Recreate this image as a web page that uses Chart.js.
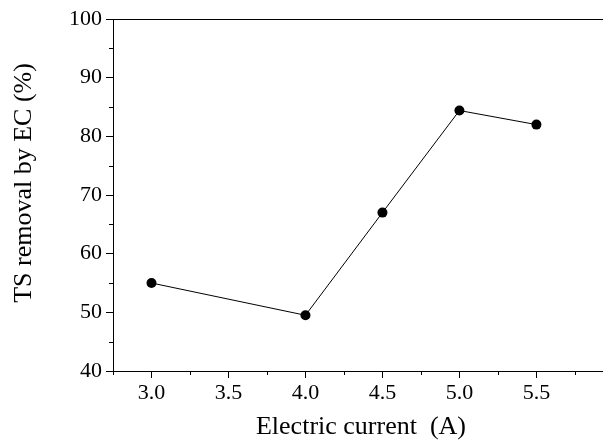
<!DOCTYPE html>
<html><head><meta charset="utf-8">
<script src="https://cdn.jsdelivr.net/npm/chart.js@4/dist/chart.umd.min.js"></script>
<style>html,body{margin:0;padding:0;background:#fff;} canvas{display:block;}</style>
</head><body>
<canvas id="c" width="603" height="444"></canvas>
<script>
const currents = [3.0, 4.0, 4.5, 5.0, 5.5];
const tsRemoval = [55.0, 49.5, 67.0, 84.4, 82.0];
const xTickValues = [3.0, 3.5, 4.0, 4.5, 5.0, 5.5];
const xMinorTicks = [2.75, 3.25, 3.75, 4.25, 4.75, 5.25, 5.75];
const yTickValues = [40, 50, 60, 70, 80, 90, 100];
const yMinorTicks = [45, 55, 65, 75, 85, 95];
const xTitle = 'Electric current  (A)';
const yTitle = 'TS removal by EC (%)';

const FONT = 'Liberation Serif, Times New Roman, serif';

const extras = {
  id: 'extras',
  afterDraw(chart) {
    const {ctx, chartArea: a, scales} = chart;
    ctx.save();
    ctx.strokeStyle = '#000';
    ctx.lineWidth = 1;
    ctx.beginPath();
    ctx.moveTo(a.left, a.top + 0.5);
    ctx.lineTo(chart.width, a.top + 0.5);
    ctx.moveTo(a.left, a.bottom + 0.5);
    ctx.lineTo(chart.width, a.bottom + 0.5);
    xMinorTicks.forEach(v => {
      const px = Math.round(scales.x.getPixelForValue(v)) + 0.5;
      ctx.moveTo(px, a.bottom);
      ctx.lineTo(px, a.bottom + 4);
    });
    yMinorTicks.forEach(v => {
      const py = Math.round(scales.y.getPixelForValue(v)) + 0.5;
      ctx.moveTo(a.left - 4, py);
      ctx.lineTo(a.left, py);
    });
    ctx.stroke();
    ctx.fillStyle = '#000';
    ctx.font = '26px ' + FONT;
    ctx.textAlign = 'center';
    ctx.textBaseline = 'alphabetic';
    ctx.fillText(xTitle, 361, 434);
    ctx.translate(31, 183);
    ctx.rotate(-Math.PI / 2);
    ctx.fillText(yTitle, 0, 0);
    ctx.restore();
  }
};

new Chart(document.getElementById('c'), {
  type: 'scatter',
  data: {
    datasets: [{
      data: currents.map((x, i) => ({x: x, y: tsRemoval[i]})),
      showLine: true,
      borderColor: '#000',
      borderWidth: 1,
      pointRadius: 5,
      pointBackgroundColor: '#000',
      pointBorderWidth: 0
    }]
  },
  options: {
    responsive: false,
    animation: false,
    layout: {padding: {top: 19, right: 0, left: 0, bottom: 0}},
    plugins: {legend: {display: false}, tooltip: {enabled: false}},
    scales: {
      x: {
        type: 'linear',
        min: 2.75,
        max: 5.9,
        afterBuildTicks: s => { s.ticks = xTickValues.map(v => ({value: v})); },
        afterFit: s => { s.height = 73; s.paddingLeft = 0; s.paddingRight = 0; },
        ticks: {
          font: {family: FONT, size: 22},
          color: '#000',
          padding: 2,
          maxRotation: 0,
          autoSkip: false,
          callback: v => Number(v).toFixed(1)
        },
        grid: {drawOnChartArea: false, tickLength: 7, color: '#000', tickWidth: 1},
        border: {color: '#000', width: 1}
      },
      y: {
        min: 40,
        max: 100,
        afterBuildTicks: s => { s.ticks = yTickValues.map(v => ({value: v})); },
        afterFit: s => { s.width = 113; s.paddingTop = 0; s.paddingBottom = 0; },
        ticks: {
          font: {family: FONT, size: 22},
          color: '#000',
          padding: 4,
          autoSkip: false,
          callback: v => String(v)
        },
        grid: {drawOnChartArea: false, tickLength: 7, color: '#000', tickWidth: 1},
        border: {color: '#000', width: 1}
      }
    }
  },
  plugins: [extras]
});
</script>
</body></html>
